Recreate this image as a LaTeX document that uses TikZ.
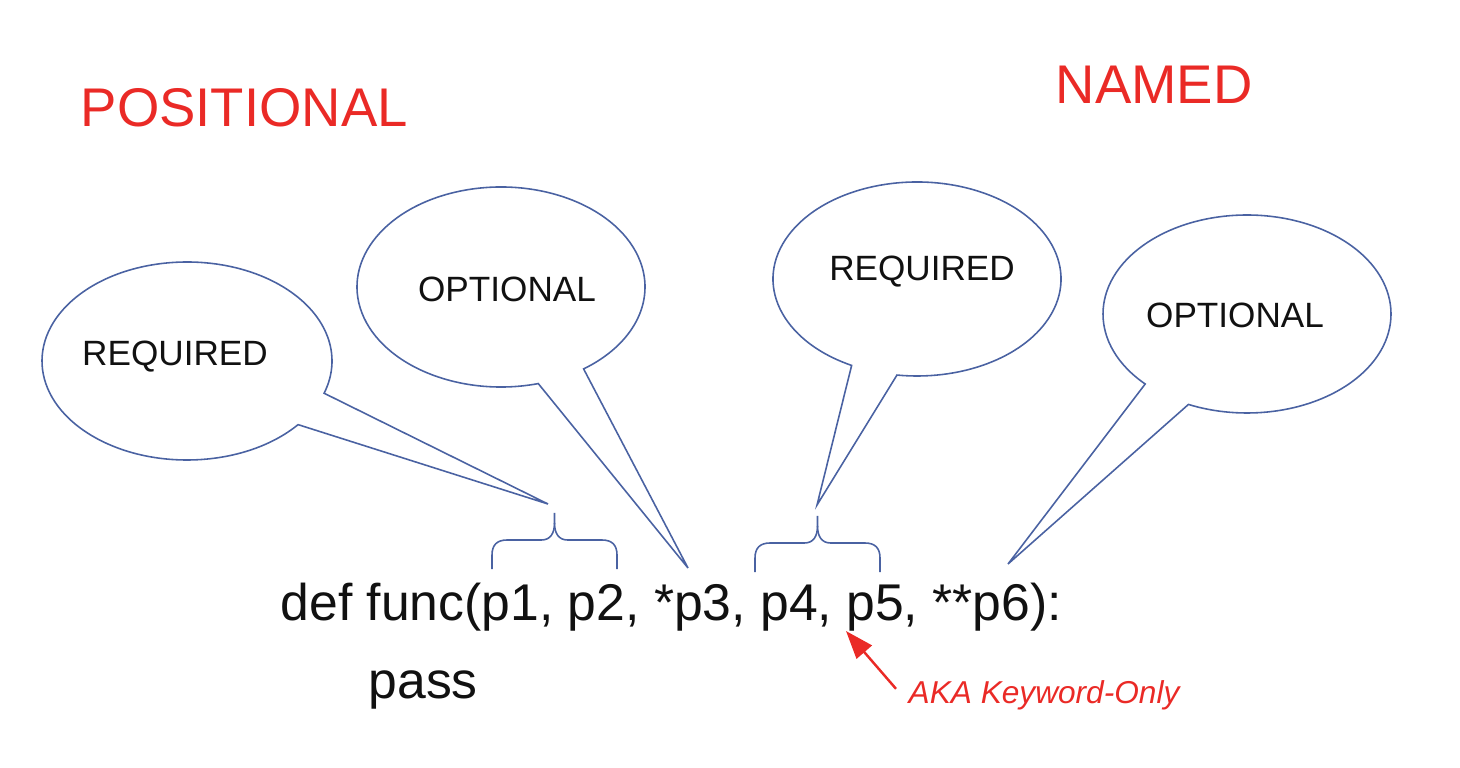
\documentclass[tikz,border=0pt]{standalone}
\usepackage{fontspec}
\setmainfont{Liberation Sans}
\usepackage{xcolor}
\usetikzlibrary{arrows.meta}
\definecolor{titlered}{RGB}{234,42,38}
\definecolor{bubbleblue}{RGB}{74,98,162}
\definecolor{codeblack}{RGB}{17,17,17}

\begin{document}
\begin{tikzpicture}[
    x=0.1mm, y=-0.1mm,
    title/.style={text=titlered, anchor=base west, inner sep=0pt, font=\fontsize{15.5}{18}\selectfont},
    code/.style={text=codeblack, anchor=base west, inner sep=0pt, font=\fontsize{14.7}{17}\selectfont},
    bubble/.style={draw=bubbleblue, line width=0.45pt},
    bubbletext/.style={text=codeblack, inner sep=0pt, font=\fontsize{10}{12}\selectfont},
    argbrace/.style={draw=bubbleblue, line width=0.45pt},
    note/.style={text=titlered, anchor=base west, inner sep=0pt, font=\fontsize{9}{11}\selectfont\itshape},
    kwarrow/.style={draw=titlered, line width=0.7pt, -{Triangle[length=2.8mm,width=2mm]}}
]
\useasboundingbox (0,0) rectangle (1460,768);

% headings
\node[title] (positional) at (80,127) {POSITIONAL};
\node[title] (named) at (1055,104) {NAMED};

% the signature
\node[code] (sig) at (280,620) {def func(p1, p2, *p3, p4, p5, **p6):};
\node[code] (body) at (368,698) {pass};

% bubble labels
\node[bubbletext] (req1) at (175,357) {REQUIRED};
\node[bubbletext] (opt1) at (507,289) {OPTIONAL};
\node[bubbletext] (req2) at (922,272) {REQUIRED};
\node[bubbletext] (opt2) at (1235,315) {OPTIONAL};

% where the tails end
\coordinate (tipreq1) at (548,504);
\coordinate (tipopt1) at (688,568);
\coordinate (tipreq2) at (817,505);
\coordinate (tipopt2) at (1008,564);

% speech bubbles: centre, radii, tail base angles, tail tip
\foreach \cx/\cy/\rx/\ry/\ta/\tb/\tip in {187/361/145/99/19/40/tipreq1,
    501/287/144/100/55/75/tipopt1,
    917/279/144/97/98/117/tipreq2,
    1247/314/144/99/114/135/tipopt2}
  \draw[bubble] ({\cx+\rx*cos(\tb)},{\cy+\ry*sin(\tb)})
    arc[start angle=\tb, end angle=\ta+360, x radius=\rx, y radius=\ry]
    -- (\tip) -- cycle;

% braces over the required groups
\foreach \bl/\br/\by in {492/617/569, 755/880/572}{
  \pgfmathsetmacro\bm{(\bl+\br)/2}
  \draw[argbrace] (\bl,\by) -- (\bl,\by-14)
    .. controls (\bl,\by-24) and (\bl+5,\by-29) .. (\bl+15,\by-29)
    -- (\bm-13,\by-29)
    .. controls (\bm-4,\by-29) and (\bm,\by-36) .. (\bm,\by-46) -- (\bm,\by-56);
  \draw[argbrace] (\br,\by) -- (\br,\by-14)
    .. controls (\br,\by-24) and (\br-5,\by-29) .. (\br-15,\by-29)
    -- (\bm+13,\by-29)
    .. controls (\bm+4,\by-29) and (\bm,\by-36) .. (\bm,\by-46);
}

% keyword-only note
\node[note] (aka) at (908,703) {AKA Keyword-Only};
\coordinate (kwtip) at (846,631);
\draw[kwarrow] ([shift={(-12,-6)}]aka.west) -- (kwtip);
\end{tikzpicture}
\end{document}
